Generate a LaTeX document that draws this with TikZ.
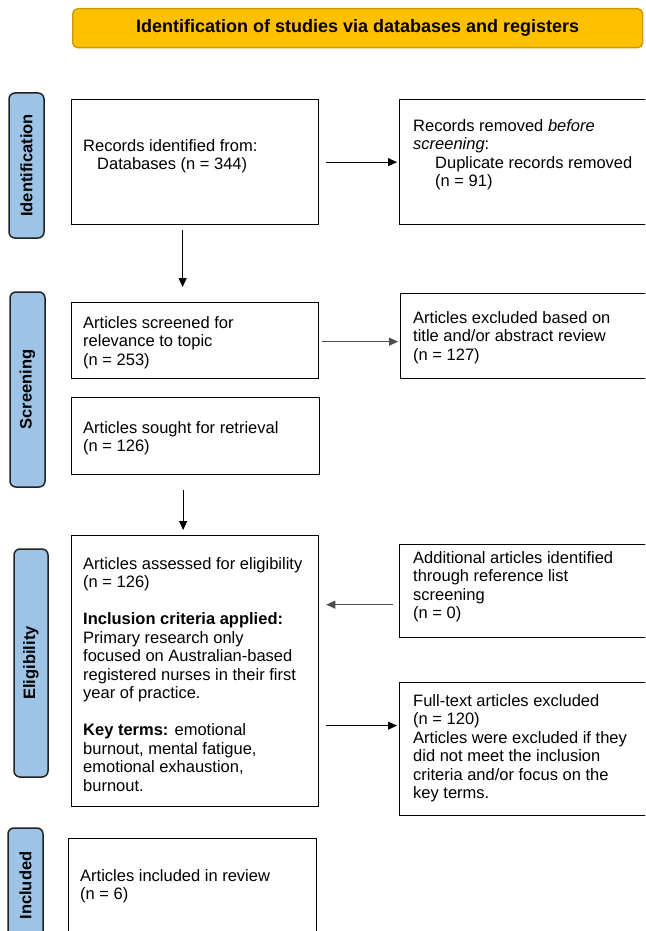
\documentclass[tikz,border=0pt]{standalone}
\usepackage{fontspec}
\setmainfont{Liberation Sans}
\usetikzlibrary{arrows.meta}
\definecolor{titlefill}{HTML}{FFC000}
\definecolor{titledraw}{HTML}{C99A06}
\definecolor{labfill}{HTML}{9DC3E6}
\definecolor{labdraw}{HTML}{222222}
\newcommand{\bodyfont}{\fontsize{16.5pt}{18.5pt}\selectfont}
\tikzset{
  box/.style={draw=black, line width=1.3pt, anchor=north west, inner sep=0pt, fill=white},
  txt/.style={anchor=north west, align=left, inner sep=0pt, font=\bodyfont, execute at begin node={\strut}},
  lab/.style={draw=labdraw, fill=labfill, line width=1.5pt, rounded corners=6pt, inner sep=0pt,
              rotate=90, font=\fontsize{16.5pt}{18.5pt}\selectfont\bfseries},
  arr/.style={line width=0.9pt, -{Triangle[length=9pt,width=8pt]}},
}
\begin{document}
\begin{tikzpicture}[x=1pt,y=-1pt]
\useasboundingbox (0,0) rectangle (645,931);
\clip (0,0) rectangle (645,931);

% title
\node[draw=titledraw, fill=titlefill, line width=1.4pt, rounded corners=5pt,
      minimum width=570pt, minimum height=39pt, anchor=north west, inner sep=0pt,
      font=\fontsize{18pt}{20pt}\selectfont\bfseries] (title) at (72,8)
      {Identification of studies via databases and registers};

% side labels
\node[lab, minimum width=145pt, minimum height=35pt] (L1) at (26.5,165.5) {Identification};
\node[lab, minimum width=195pt, minimum height=35pt] (L2) at (27.5,389.5) {Screening};
\node[lab, minimum width=228pt, minimum height=34pt] (L3) at (31,663) {Eligibility};
\node[lab, minimum width=115pt, minimum height=35pt] (L4) at (25.5,885.5) {Included};

% boxes
\node[box, minimum width=247pt, minimum height=125pt] (b1) at (71,99) {};
\node[box, minimum width=251pt, minimum height=125pt] (b2) at (399,99) {};
\node[box, minimum width=247pt, minimum height=76pt]  (b3) at (71,302) {};
\node[box, minimum width=250pt, minimum height=85pt]  (b4) at (400,293) {};
\node[box, minimum width=248pt, minimum height=77pt]  (b5) at (71,397) {};
\node[box, minimum width=247pt, minimum height=271pt] (b6) at (71,535) {};
\node[box, minimum width=251pt, minimum height=93pt]  (b7) at (399,544) {};
\node[box, minimum width=251pt, minimum height=133pt] (b8) at (399,682) {};
\node[box, minimum width=248pt, minimum height=107pt] (b9) at (68,838) {};

% texts
\node[txt] (t1) at (83,139) {Records identified from:\\\hspace*{14pt}Databases (n = 344)};
\node[txt] (t2) at (413,119) {Records removed \textit{before}\\\textit{screening}:\\\hspace*{22pt}Duplicate records removed\\\hspace*{22pt}(n = 91)};
\node[txt] (t3) at (83,316) {Articles screened for\\relevance to topic\\(n = 253)};
\node[txt] (t4) at (413,311) {Articles excluded based on\\title and/or abstract review\\(n = 127)};
\node[txt] (t5) at (83,421) {Articles sought for retrieval\\(n = 126)};
\node[txt] (t6) at (83,557) {Articles assessed for eligibility\\(n = 126)\\[18.5pt]\textbf{Inclusion criteria applied:}\\Primary research only\\focused on Australian-based\\registered nurses in their first\\year of practice.\\[18.5pt]\textbf{Key terms:} emotional\\burnout, mental fatigue,\\emotional exhaustion,\\burnout.};
\node[txt] (t7) at (413,551) {Additional articles identified\\through reference list\\screening\\(n = 0)};
\node[txt] (t8) at (413,694) {Full-text articles excluded\\(n = 120)\\Articles were excluded if they\\did not meet the inclusion\\criteria and/or focus on the\\key terms.};
\node[txt] (t9) at (80,869) {Articles included in review\\(n = 6)};

% connectors
\draw[arr, shorten <=7pt, shorten >=2pt] (b1) -- (b2);
\draw[arr, shorten <=5pt, shorten >=15pt] ([xshift=-12.5pt]b1.south) -- ([xshift=-12.5pt]b1.south |- b3.north);
\draw[arr, draw=black!70, shorten <=3pt, shorten >=2pt] ([yshift=-1pt]b3.east) -- ([yshift=-1pt]b3.east -| b4.west);
\draw[arr, shorten <=15pt, shorten >=5pt] ([xshift=-12.5pt]b5.south) -- ([xshift=-12.5pt]b5.south |- b6.north);
\draw[arr, draw=black!70, shorten <=6pt, shorten >=7pt] ([yshift=-13.5pt]b7.west) -- ([yshift=-13.5pt]b7.west -| b6.east);
\draw[arr, shorten <=7pt, shorten >=2pt] ([yshift=23.5pt]b8.west -| b6.east) -- ([yshift=23.5pt]b8.west);
\end{tikzpicture}
\end{document}
